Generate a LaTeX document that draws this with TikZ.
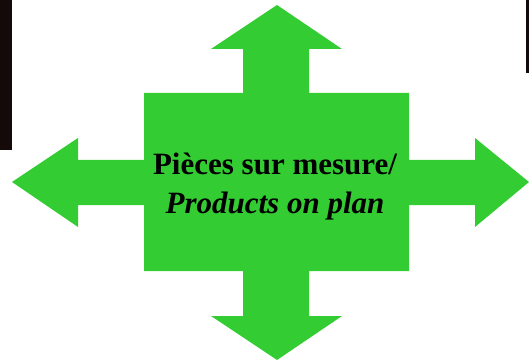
\documentclass[tikz,border=0pt]{standalone}
\usepackage{fontspec}
\setmainfont{Liberation Serif}
\definecolor{arrowgreen}{RGB}{51,204,51}
\definecolor{bardark}{RGB}{20,10,10}
\tikzset{
  crossarrow/.style={fill=arrowgreen,draw=none},
  sidebar/.style={fill=bardark,draw=none},
}
\begin{document}
\begin{tikzpicture}[x=1pt,y=-1pt]
        \useasboundingbox (0,0) rectangle (529,363);
        \fill[sidebar] (0,0) rectangle (12,150);
        \fill[sidebar] (526,0) rectangle (529,73);
        \fill[crossarrow] (144,93) -- (243,93) -- (243,49) -- (211,49) -- (277,5) -- (342,49) -- (309,49) -- (309,93)
          -- (409,93) -- (409,160) -- (475,160) -- (475,138) -- (529,182) -- (475,227) -- (475,205) -- (409,205)
          -- (409,271) -- (309,271) -- (309,316) -- (342,316) -- (277,360) -- (211,316) -- (243,316) -- (243,271)
          -- (144,271) -- (144,205) -- (78,205) -- (78,227) -- (12,182) -- (78,138) -- (78,160) -- (144,160) -- cycle;
        \node[align=center,inner sep=0pt,font=\bfseries\fontsize{31}{39}\selectfont] (label) at (275,187)
          {Pièces sur mesure/\\\textit{Products on plan}};
      \end{tikzpicture}
\end{document}
